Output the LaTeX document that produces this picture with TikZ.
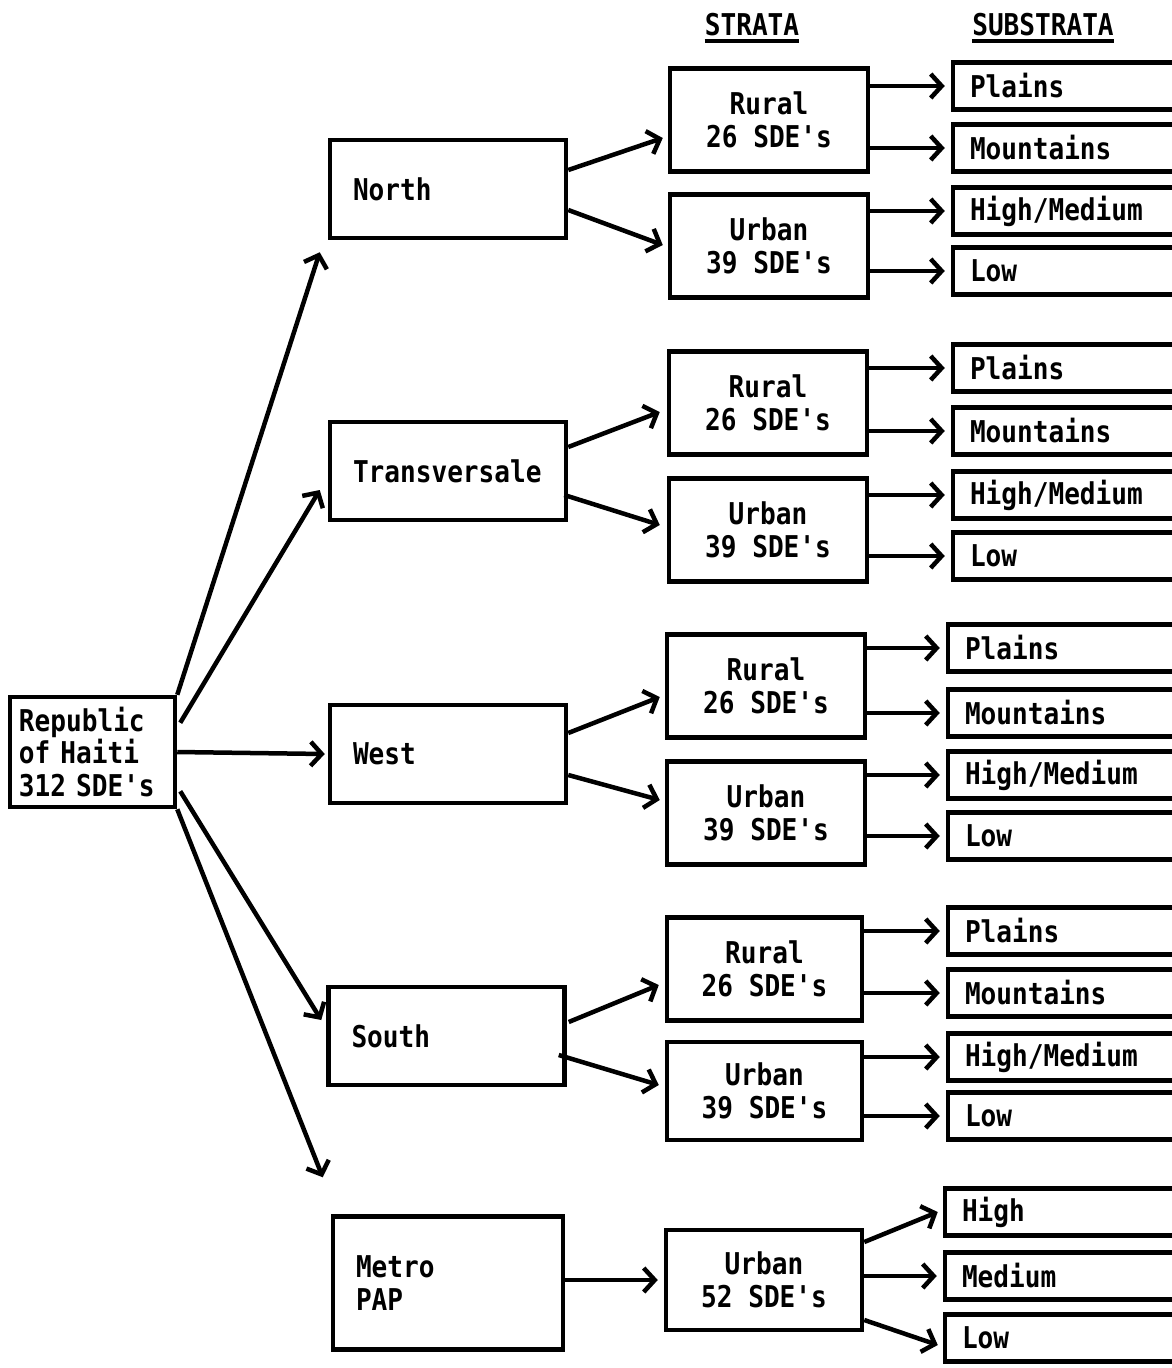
\documentclass[tikz,border=0pt]{standalone}
\usepackage{fontspec}
\newfontfamily\lgfont[FakeStretch=0.87,WordSpace={1,0,0}]{DejaVu Sans Mono}
\usetikzlibrary{arrows.meta,calc}
\begin{document}
\begin{tikzpicture}[x=1pt,y=-1pt,
  every node/.style={font=\lgfont\bfseries\fontsize{30}{32.5}\selectfont},
  box/.style={draw, line width=4.5pt, inner ysep=0pt},
  rep/.style={box, minimum width=165, minimum height=110, inner xsep=9, text width=147, align=left},
  region/.style={box, minimum width=236, minimum height=98, inner xsep=23, text width=190, align=left},
  stratum/.style={box, minimum width=198, minimum height=103, align=center},
  sub/.style={box, minimum width=232, minimum height=47, inner xsep=17, text width=198, align=left},
  head/.style={inner sep=0pt, anchor=base},
  arr/.style={line width=4.5pt, -{Straight Barb[length=11pt,width=24pt]}},
  harr/.style={arr, shorten >=6pt},
  uline/.style={line width=3.5pt}
]
\useasboundingbox (0,0) rectangle (1172,1368);
\fill[white] (0,0) rectangle (1172,1368);

% headers
\node[head] (strata) at (752,35) {STRATA};
\node[head] (substrata) at (1043,35) {SUBSTRATA};
\draw[uline] ($(strata.base west)+(0,6)$) -- ($(strata.base east)+(0,6)$);
\draw[uline] ($(substrata.base west)+(0,6)$) -- ($(substrata.base east)+(0,6)$);

% root
\node[rep] (rep) at (92.5,752) {Republic\\of Haiti\\312 SDE's};

% regions
\node[region] (north) at (448,189) {North};
\node[region] (trans) at (448,471) {Transversale};
\node[region] (west) at (448,754) {West};
\node[region, minimum width=233] (south) at (446.5,1036) {South};
\node[region, minimum width=230, minimum height=133, text width=184] (metro) at (448,1283) {Metro\\PAP};

% strata
\node[stratum] (rN) at (769,120) {Rural\\26 SDE's};
\node[stratum] (uN) at (769,246) {Urban\\39 SDE's};
\node[stratum] (rT) at (768,403) {Rural\\26 SDE's};
\node[stratum] (uT) at (768,530) {Urban\\39 SDE's};
\node[stratum] (rW) at (766,686) {Rural\\26 SDE's};
\node[stratum] (uW) at (766,813) {Urban\\39 SDE's};
\node[stratum, minimum width=195] (rS) at (764.5,969) {Rural\\26 SDE's};
\node[stratum, minimum width=195, minimum height=98] (uS) at (764.5,1091) {Urban\\39 SDE's};
\node[stratum, minimum width=196, minimum height=100] (uM) at (764,1280) {Urban\\52 SDE's};

% substrata
\node[sub] (nP) at (1069,86) {Plains};
\node[sub] (nM) at (1069,148) {Mountains};
\node[sub] (nH) at (1069,211) {High/Medium};
\node[sub] (nL) at (1069,271) {Low};
\node[sub] (tP) at (1069,368) {Plains};
\node[sub] (tM) at (1069,431) {Mountains};
\node[sub] (tH) at (1069,495) {High/Medium};
\node[sub] (tL) at (1069,556) {Low};
\node[sub] (wP) at (1064,648) {Plains};
\node[sub] (wM) at (1064,713) {Mountains};
\node[sub] (wH) at (1064,775) {High/Medium};
\node[sub] (wL) at (1064,836) {Low};
\node[sub] (sP) at (1064,931) {Plains};
\node[sub] (sM) at (1064,993) {Mountains};
\node[sub] (sH) at (1064,1057) {High/Medium};
\node[sub] (sL) at (1064,1116) {Low};
\node[sub] (mH) at (1061,1212) {High};
\node[sub] (mM) at (1061,1276) {Medium};
\node[sub] (mL) at (1061,1338) {Low};

% root -> regions
\draw[arr] (rep.north east) -- ($(north.south west)+(-8,12)$);
\draw[arr] ($(rep.north east)+(3,28)$) -- ($(trans.west)+(-8,19)$);
\draw[arr] (rep.east) -- ($(west.west)+(-3,0)$);
\draw[arr] ($(rep.south east)+(3,-18)$) -- ($(south.west)+(-5,-16)$);
\draw[arr] (rep.south east) -- ($(metro.north west)+(-8,-37)$);

% regions -> strata
\draw[arr] ($(north.east)+(0,-19)$) -- ($(rN.west)+(-5,18)$);
\draw[arr] ($(north.east)+(0,21)$) -- ($(uN.west)+(-5,-1)$);
\draw[arr] ($(trans.east)+(0,-24)$) -- ($(rT.west)+(-7,9)$);
\draw[arr] ($(trans.east)+(-4,24)$) -- ($(uT.west)+(-7,-5)$);
\draw[arr] ($(west.east)+(0,-21)$) -- ($(rW.west)+(-5,11)$);
\draw[arr] ($(west.east)+(0,21)$) -- ($(uW.west)+(-5,-13)$);
\draw[arr] ($(south.east)+(2,-14)$) -- ($(rS.west)+(-6,16)$);
\draw[arr] ($(south.east)+(-8,19)$) -- ($(uS.west)+(-6,-6)$);
\draw[harr] (uM.west -| metro.east) -- (uM.west);

% strata -> substrata
\foreach \s/\t in {rN/nP, rN/nM, uN/nH, uN/nL, rT/tP, rT/tM, uT/tH, uT/tL,
                   rW/wP, rW/wM, uW/wH, uW/wL, rS/sP, rS/sM, uS/sH, uS/sL, uM/mM}
  \draw[harr] (\s.east |- \t.west) -- (\t.west);
\draw[arr] ($(uM.east)+(0,-38)$) -- ($(mH.west)+(-5,0)$);
\draw[arr] ($(uM.east)+(0,40)$) -- ($(mL.west)+(-5,7)$);
\end{tikzpicture}
\end{document}
